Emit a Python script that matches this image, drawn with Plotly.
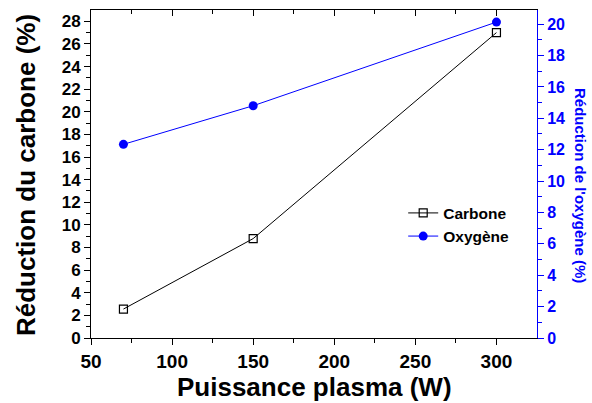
import plotly.graph_objects as go

puissance = [70, 150, 300]
carbone = [2.56, 8.79, 27.0]
oxygene = [12.34, 14.8, 20.13]

x_ticks = [50, 100, 150, 200, 250, 300]
y_ticks = list(range(0, 29, 2))
y2_ticks = list(range(0, 21, 2))

FONT = "Arial, Liberation Sans, sans-serif"
BLUE = "#0000ff"

fig = go.Figure()
fig.add_trace(go.Scatter(x=puissance, y=carbone, name="<b>Carbone</b>", mode="lines+markers",
                         line=dict(color="black", width=1),
                         marker=dict(symbol="square-open", size=8, color="black", line=dict(width=1.2))))
fig.add_trace(go.Scatter(x=puissance, y=oxygene, name="<b>Oxygène</b>", mode="lines+markers",
                         yaxis="y2",
                         line=dict(color=BLUE, width=1),
                         marker=dict(symbol="circle", size=9, color=BLUE)))
# invisible trace for top mirror axis
fig.add_trace(go.Scatter(x=puissance, y=carbone, xaxis="x2", mode="none", showlegend=False, hoverinfo="skip"))

fig.update_layout(
    width=592, height=403,
    margin=dict(l=91, r=55, t=10, b=65, autoexpand=False),
    paper_bgcolor="white", plot_bgcolor="white",
    font=dict(family=FONT, color="black"),
    showlegend=True,
    legend=dict(x=0.70, y=0.345, xanchor="left", yanchor="middle",
                bgcolor="rgba(0,0,0,0)", font=dict(size=15.5, family=FONT, color="black"),
                itemwidth=30, tracegroupgap=0),
    xaxis=dict(range=[50, 325], tickvals=x_ticks, ticktext=[f"<b>{v}</b>" for v in x_ticks],
               ticks="outside", ticklen=6, tickwidth=1, tickcolor="black",
               minor=dict(tickvals=[75, 125, 175, 225, 275], ticks="outside", ticklen=4, tickcolor="black"),
               showline=True, linecolor="black", linewidth=1, showgrid=False, zeroline=False,
               tickfont=dict(size=19), automargin=False),
    xaxis2=dict(range=[50, 325], overlaying="x", side="top",
                tickvals=x_ticks, ticks="inside", ticklen=6, tickcolor="black",
                minor=dict(tickvals=[75, 125, 175, 225, 275], ticks="inside", ticklen=4, tickcolor="black"),
                showticklabels=False, showline=True, linecolor="black", linewidth=1,
                showgrid=False, zeroline=False, automargin=False),
    yaxis=dict(range=[0, 29], tickvals=y_ticks, ticktext=[f"<b>{v}</b>" for v in y_ticks],
               ticks="outside", ticklen=6, tickwidth=1, tickcolor="black",
               minor=dict(tickvals=list(range(1, 29, 2)), ticks="outside", ticklen=4, tickcolor="black"),
               showline=True, linecolor="black", linewidth=1, showgrid=False, zeroline=False,
               tickfont=dict(size=17), automargin=False),
    yaxis2=dict(range=[0, 20.9], overlaying="y", side="right", tickvals=y2_ticks,
                ticktext=[f"<b>{v}</b>" for v in y2_ticks],
                ticks="outside", ticklen=6, tickwidth=1, tickcolor=BLUE,
                minor=dict(tickvals=list(range(1, 21, 2)), ticks="outside", ticklen=4, tickcolor=BLUE),
                showline=True, linecolor=BLUE, linewidth=1, showgrid=False, zeroline=False,
                tickfont=dict(size=16, color=BLUE), automargin=False),
)

fig.add_annotation(text="<b>Réduction du carbone (%)</b>", textangle=-90,
                   xref="paper", yref="paper", x=(26 - 91) / 446, y=(338 - 175) / 328,
                   xanchor="center", yanchor="middle",
                   showarrow=False, font=dict(size=26, color="black", family=FONT))
fig.add_annotation(text="<b>Puissance plasma (W)</b>",
                   xref="paper", yref="paper", x=(314 - 91) / 446, y=(338 - 387) / 328,
                   xanchor="center", yanchor="middle",
                   showarrow=False, font=dict(size=26, color="black", family=FONT))
fig.add_annotation(text="<b>Réduction de l'oxygène (%)</b>", textangle=90,
                   xref="paper", yref="paper", x=(580 - 91) / 446, y=(338 - 185) / 328,
                   xanchor="center", yanchor="middle",
                   showarrow=False, font=dict(size=15, color=BLUE, family=FONT))

fig.write_html("out.html", config={"displayModeBar": False},
               post_script="document.body.style.margin='0';document.body.style.padding='0';")
